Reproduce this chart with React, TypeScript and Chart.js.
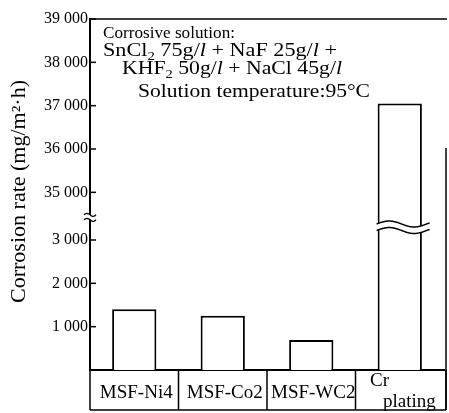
import React, { useEffect, useRef } from "react";
import { Chart, registerables } from "chart.js";

Chart.register(...registerables);

// ---------- data ----------
const categories = ["MSF-Ni4", "MSF-Co2", "MSF-WC2", "Cr plating"];
const corrosionRate = [1400, 1250, 690, 37050];
const lowerTicks = [1000, 2000, 3000];
const upperTicks = [35000, 36000, 37000, 38000, 39000];
const lowerTickLabels = ["1 000", "2 000", "3 000"];
const upperTickLabels = ["35 000", "36 000", "37 000", "38 000", "39 000"];
const BREAK_LOW = 3500; // top of lower axis segment
const BREAK_HIGH = 34400; // bottom of upper axis segment
const AXIS_TOP = 39000;
const yTitle = "Corrosion rate (mg/m²·h)";

type Seg = { t: string; sub?: boolean; it?: boolean };
const noteLine1: Seg[] = [{ t: "Corrosive solution:" }];
const noteLine2: Seg[] = [
  { t: "SnCl" }, { t: "2", sub: true }, { t: " 75g/" }, { t: "l", it: true },
  { t: " + NaF 25g/" }, { t: "l", it: true }, { t: " +" },
];
const noteLine3: Seg[] = [
  { t: "KHF" }, { t: "2", sub: true }, { t: " 50g/" }, { t: "l", it: true },
  { t: " + NaCl 45g/" }, { t: "l", it: true },
];
const noteLine4: Seg[] = [{ t: "Solution temperature:95°C" }];

const toAxis = (v: number) => (v <= BREAK_LOW ? v : v - BREAK_HIGH + BREAK_LOW);
const tickValues = [...lowerTicks, ...upperTicks];
const tickLabels = [...lowerTickLabels, ...upperTickLabels];

const FONT = '"Liberation Serif", "DejaVu Serif", serif';

function drawFit(ctx: CanvasRenderingContext2D, segs: Seg[], x: number, y: number, target: number, size: number) {
  const fontOf = (s: Seg) => `${s.it ? "italic " : ""}${s.sub ? Math.round(size * 0.65) : size}px ${FONT}`;
  let natural = 0;
  for (const s of segs) {
    ctx.font = fontOf(s);
    natural += ctx.measureText(s.t).width;
  }
  const sx = target / natural;
  ctx.save();
  ctx.translate(x, y);
  ctx.scale(sx, 1);
  let cx = 0;
  for (const s of segs) {
    ctx.font = fontOf(s);
    ctx.fillText(s.t, cx, s.sub ? size * 0.22 : 0);
    cx += ctx.measureText(s.t).width;
  }
  ctx.restore();
}

function wave(ctx: CanvasRenderingContext2D, x0: number, x1: number, yc: number, amp: number, period: number) {
  ctx.moveTo(x0, yc);
  for (let x = x0; x <= x1; x += 1) {
    ctx.lineTo(x, yc - amp * Math.sin((2 * Math.PI * (x - x0)) / period));
  }
}

const decorPlugin = {
  id: "decor",
  afterDraw(chart: any) {
    const ctx: CanvasRenderingContext2D = chart.ctx;
    const area = chart.chartArea;
    const ys = chart.scales.y;
    const xs = chart.scales.x;
    ctx.save();
    ctx.strokeStyle = "#000";
    ctx.fillStyle = "#000";
    ctx.lineWidth = 1.5;

    // inner tick marks
    for (const v of tickValues) {
      const py = ys.getPixelForValue(toAxis(v));
      ctx.beginPath();
      ctx.moveTo(area.left, py);
      ctx.lineTo(area.left + 6, py);
      ctx.stroke();
    }

    // top frame line
    ctx.beginPath();
    ctx.moveTo(area.left, area.top);
    ctx.lineTo(area.right + 3, area.top);
    ctx.stroke();

    // right frame line (lower part)
    ctx.beginPath();
    ctx.moveTo(area.right + 2, 148);
    ctx.lineTo(area.right + 2, 410);
    ctx.stroke();

    // axis break mark
    const yb = ys.getPixelForValue(BREAK_LOW) - 1;
    ctx.fillStyle = "#fff";
    ctx.fillRect(area.left - 3, yb - 2.5, 6, 5);
    ctx.fillStyle = "#000";
    ctx.lineWidth = 1.3;
    ctx.beginPath();
    wave(ctx, area.left - 6, area.left + 6, yb - 2.5, 1.5, 12);
    wave(ctx, area.left - 6, area.left + 6, yb + 2.5, 1.5, 12);
    ctx.stroke();

    // break on the tall bar
    const meta = chart.getDatasetMeta(0);
    const bar = meta.data[3];
    if (bar) {
      const w = bar.width;
      const l = bar.x - w / 2 - 1;
      const r = bar.x + w / 2 + 8;
      const yc = ys.getPixelForValue(3300);
      const amp = 3;
      const period = 50;
      const up = yc - 3;
      const dn = yc + 3.5;
      ctx.fillStyle = "#fff";
      ctx.beginPath();
      ctx.moveTo(l, up);
      for (let x = l; x <= r; x++) ctx.lineTo(x, up - amp * Math.sin((2 * Math.PI * (x - l)) / period));
      for (let x = r; x >= l; x--) ctx.lineTo(x, dn - amp * Math.sin((2 * Math.PI * (x - l)) / period));
      ctx.closePath();
      ctx.fill();
      ctx.strokeStyle = "#000";
      ctx.lineWidth = 1.5;
      ctx.beginPath();
      wave(ctx, l, r, up, amp, period);
      ctx.stroke();
      ctx.beginPath();
      wave(ctx, l, r, dn, amp, period);
      ctx.stroke();
    }

    // category boxes
    ctx.fillStyle = "#000";
    ctx.strokeStyle = "#000";
    ctx.lineWidth = 1.5;
    const catW = (area.right - area.left) / categories.length;
    const boxBottom = 410;
    ctx.beginPath();
    ctx.moveTo(area.left, boxBottom);
    ctx.lineTo(area.right + 2, boxBottom);
    for (let i = 0; i <= categories.length; i++) {
      const bx = i < categories.length ? xs.getPixelForValue(i) - catW / 2 : xs.getPixelForValue(categories.length - 1) + catW / 2 + 2;
      ctx.moveTo(bx, area.bottom);
      ctx.lineTo(bx, boxBottom);
    }
    ctx.stroke();

    ctx.font = `19px ${FONT}`;
    ctx.textBaseline = "alphabetic";
    categories.forEach((c, i) => {
      const cx = xs.getPixelForValue(i);
      const parts = c.split(" ");
      if (parts.length > 1) {
        const left = cx - catW / 2;
        ctx.textAlign = "left";
        ctx.fillText(parts[0], left + 14.5, 386);
        ctx.fillText(parts[1], left + 27.5, 407);
      } else {
        ctx.textAlign = "center";
        ctx.fillText(c, cx + 2, 398);
      }
    });

    // y axis title
    ctx.textAlign = "left";
    ctx.save();
    ctx.translate(25, 303);
    ctx.rotate(-Math.PI / 2);
    drawFit(ctx, [{ t: yTitle }], 0, 0, 223, 20);
    ctx.restore();

    // annotation
    drawFit(ctx, noteLine1, 103, 38, 132, 17);
    drawFit(ctx, noteLine2, 103, 56, 234, 18);
    drawFit(ctx, noteLine3, 122, 74, 220, 18);
    drawFit(ctx, noteLine4, 138, 97, 232, 18);

    ctx.restore();
  },
};

export default function App() {
  const ref = useRef<HTMLCanvasElement | null>(null);
  useEffect(() => {
    if (!ref.current) return;
    const chart = new Chart(ref.current, {
      type: "bar",
      data: {
        labels: categories,
        datasets: [
          {
            data: corrosionRate.map(toAxis),
            backgroundColor: "#fff",
            borderColor: "#000",
            borderWidth: 2,
            barPercentage: 0.5,
            categoryPercentage: 1,
          },
        ],
      },
      options: {
        responsive: false,
        animation: false,
        devicePixelRatio: 1,
        layout: { padding: { top: 19, right: 5, left: 0, bottom: 0 } },
        plugins: { legend: { display: false }, tooltip: { enabled: false } },
        scales: {
          x: {
            grid: { display: false },
            border: { display: true, color: "#000", width: 2 },
            ticks: { display: false },
            afterFit: (s: any) => {
              s.height = 43;
            },
          },
          y: {
            min: 0,
            max: toAxis(AXIS_TOP),
            grid: { display: false, drawTicks: false },
            border: { display: true, color: "#000", width: 2 },
            afterBuildTicks: (s: any) => {
              s.ticks = tickValues.map((v) => ({ value: toAxis(v) }));
            },
            ticks: {
              autoSkip: false,
              padding: 2,
              color: "#000",
              font: { family: FONT, size: 16 },
              callback: (_v: any, i: number) => tickLabels[i],
            },
            afterFit: (s: any) => {
              s.width = 90;
            },
          },
        },
      },
      plugins: [decorPlugin],
    });
    return () => chart.destroy();
  }, []);
  return (
    <div style={{ position: "absolute", left: 0, top: 0, width: 449, height: 413, background: "#fff" }}>
      <canvas ref={ref} width={449} height={413} />
    </div>
  );
}
